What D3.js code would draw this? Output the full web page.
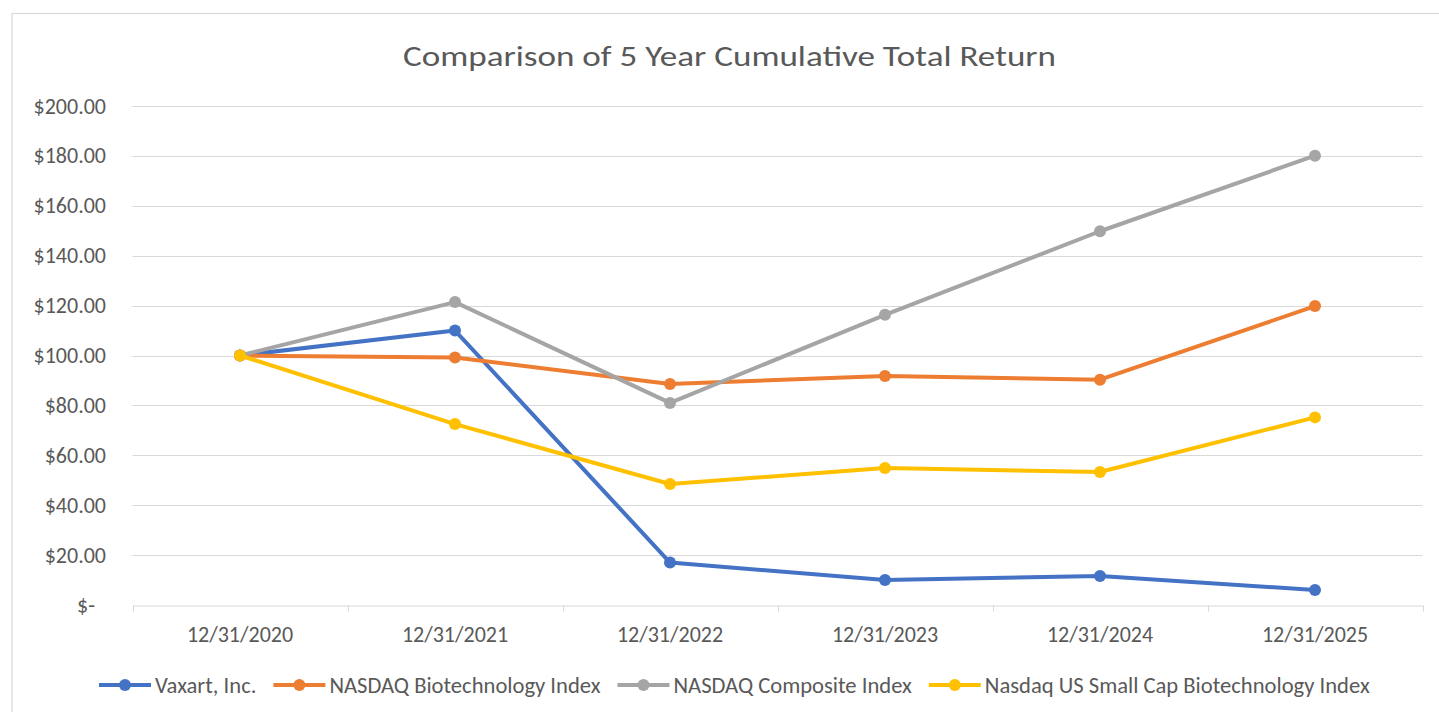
<!DOCTYPE html>
<html>
<head>
<meta charset="utf-8">
<script src="https://cdn.jsdelivr.net/npm/d3@7"></script>
<style>
  html, body { margin: 0; padding: 0; background: #fff; }
  svg { display: block; }
  text { font-family: Carlito, Calibri, Lato, "Open Sans", sans-serif; fill: #595959; }
</style>
</head>
<body>
<svg id="chart" width="1439" height="712"></svg>
<script>
const categories = ["12/31/2020", "12/31/2021", "12/31/2022", "12/31/2023", "12/31/2024", "12/31/2025"];
const seriesNames = ["Vaxart, Inc.", "NASDAQ Biotechnology Index", "NASDAQ Composite Index", "Nasdaq US Small Cap Biotechnology Index"];
const vaxart = [100, 110, 17, 10, 11.6, 6];
const nasdaqBiotech = [100, 99.2, 88.6, 91.8, 90.3, 119.8];
const nasdaqComposite = [100, 121.4, 81, 116.3, 149.8, 180.1];
const smallCapBiotech = [100, 72.5, 48.5, 54.9, 53.3, 75.2];
const yTicks = [0, 20, 40, 60, 80, 100, 120, 140, 160, 180, 200];
const colors = ["#4472C4", "#ED7D31", "#A5A5A5", "#FFC000"];
const title = "Comparison of 5 Year Cumulative Total Return";

const series = [vaxart, nasdaqBiotech, nasdaqComposite, smallCapBiotech].map((v, i) => ({ name: seriesNames[i], values: v, color: colors[i] }));

const svg = d3.select("#chart");

// chart frame
svg.append("rect").attr("x", 12).attr("y", 13.5).attr("width", 1440).attr("height", 720)
  .attr("fill", "#fff").attr("stroke", "#d9d9d9").attr("stroke-width", 1.2);

const plotLeft = 132.5, plotRight = 1422.5, plotTop = 106, plotBottom = 605;

const x = d3.scaleBand().domain(categories).range([plotLeft, plotRight]);
const y = d3.scaleLinear().domain([0, 200]).range([plotBottom, plotTop]);

// title
svg.append("text").attr("x", 729.5).attr("y", 66).attr("text-anchor", "middle")
  .attr("textLength", 653).attr("lengthAdjust", "spacingAndGlyphs")
  .style("font-size", "29px").text(title);

// gridlines
svg.append("g").selectAll("line").data(yTicks.filter(d => d !== 0)).join("line")
  .attr("x1", plotLeft).attr("x2", plotRight)
  .attr("y1", d => Math.round(y(d)) + 0.5).attr("y2", d => Math.round(y(d)) + 0.5)
  .attr("stroke", "#d9d9d9").attr("stroke-width", 1);

// y axis labels
const yAxis = d3.axisLeft(y).tickValues(yTicks).tickSize(0).tickPadding(0)
  .tickFormat(d => d === 0 ? "$-" : "$" + d3.format(".2f")(d));
const gy = svg.append("g").attr("transform", `translate(106,0)`).call(yAxis);
gy.select(".domain").remove();
gy.selectAll("text").style("font-size", "22px").attr("fill", "#595959")
  .attr("dx", d => d === 0 ? -11 : 0);

// x axis
const xAxis = d3.axisBottom(x).tickSize(0).tickPadding(21);
const gx = svg.append("g").attr("transform", `translate(0,${plotBottom + 0.5})`).call(xAxis);
gx.select(".domain").attr("stroke", "#d9d9d9");
gx.selectAll("text").style("font-size", "22px").attr("fill", "#595959");
const bounds = categories.map(c => x(c)).concat([x(categories[categories.length - 1]) + x.bandwidth()]);
gx.append("g").selectAll("line").data(bounds).join("line")
  .attr("x1", d => Math.round(d) + 0.5).attr("x2", d => Math.round(d) + 0.5)
  .attr("y1", 0).attr("y2", 6).attr("stroke", "#d9d9d9");

// lines
const line = d3.line().x((d, i) => x(categories[i]) + x.bandwidth() / 2).y(d => y(d));
const gs = svg.append("g").selectAll("g").data(series).join("g");
gs.append("path").attr("d", d => line(d.values)).attr("fill", "none")
  .attr("stroke", d => d.color).attr("stroke-width", 4).attr("stroke-linejoin", "round").attr("stroke-linecap", "round");
gs.selectAll("circle").data(d => d.values.map((v, i) => ({ v, i, color: d.color }))).join("circle")
  .attr("cx", d => x(categories[d.i]) + x.bandwidth() / 2).attr("cy", d => y(d.v))
  .attr("r", 6).attr("fill", d => d.color);

// legend
const legend = svg.append("g").attr("transform", "translate(0,685)");
let lx = 99;
series.forEach(s => {
  const g = legend.append("g").attr("transform", `translate(${lx},0)`);
  g.append("line").attr("x1", 0).attr("x2", 52).attr("y1", 0).attr("y2", 0)
    .attr("stroke", s.color).attr("stroke-width", 4);
  g.append("circle").attr("cx", 26).attr("cy", 0).attr("r", 6).attr("fill", s.color);
  const t = g.append("text").attr("x", 56).attr("y", 0).attr("dy", "0.35em")
    .style("font-size", "22.6px").text(s.name);
  lx += 56 + t.node().getComputedTextLength() + 17;
});
</script>
</body>
</html>
